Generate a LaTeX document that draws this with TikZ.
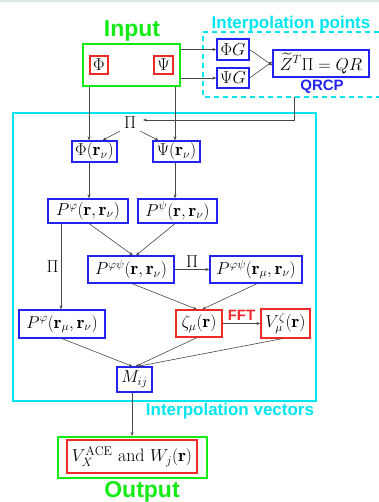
\documentclass[tikz,border=0pt]{standalone}
\usepackage{fontspec}
\usepackage{amsmath}
\newfontfamily\labelfont{Liberation Sans}
\usetikzlibrary{arrows.meta,calc}
\definecolor{cgreen}{RGB}{20,235,20}
\definecolor{cblue}{RGB}{35,35,240}
\definecolor{cred}{RGB}{240,40,40}
\definecolor{ccyan}{RGB}{0,230,240}
\definecolor{cline}{RGB}{70,70,70}
\definecolor{ctop}{RGB}{215,232,222}
\tikzset{
  mathbox/.style={draw=cblue, line width=1.2pt, inner sep=0pt, align=center,
    font=\fontsize{18}{20}\selectfont},
  redbox/.style={mathbox, draw=cred},
  greenbox/.style={draw=cgreen, line width=2pt, inner sep=0pt},
  arr/.style={draw=cline, line width=0.6pt, -{Stealth[length=4pt,width=3pt]}},
  plainline/.style={draw=cline, line width=0.6pt},
  lbl/.style={font=\labelfont\bfseries, inner sep=0pt},
  pilabel/.style={font=\fontsize{18}{20}\selectfont, inner sep=1pt}
}
\begin{document}
\begin{tikzpicture}[x=1pt,y=-1pt]
\useasboundingbox (0,0) rectangle (379,502);
\fill[ctop] (0,0) rectangle (379,2);

% column coordinates
\coordinate (c1) at (89,0);
\coordinate (c2) at (175,0);
\coordinate (c0) at (61,0);
\coordinate (c3) at (132,0);

% Input
\node[lbl, text=cgreen, font=\labelfont\bfseries\fontsize{23}{26}\selectfont] (inlabel) at (132,31) {Input};
\node[greenbox, minimum width=97pt, minimum height=42pt] (inbox) at (131.5,65) {};
\node[redbox, minimum width=18pt, minimum height=18pt] (phiin) at (99,65) {$\Phi$};
\node[redbox, minimum width=19pt, minimum height=18pt] (psiin) at (163.5,65) {$\Psi$};

% Interpolation points
\draw[ccyan, line width=1.5pt, dash pattern=on 5pt off 4pt] (379,32) -- (203,32) -- (203,97) -- (379,97);
\node[lbl, text=ccyan, font=\labelfont\bfseries\fontsize{17}{20}\selectfont] (iplabel) at (291,24) {Interpolation points};
\node[mathbox, minimum width=32pt, minimum height=21pt] (phiG) at (233,49.5) {$\Phi G$};
\node[mathbox, minimum width=32pt, minimum height=20pt] (psiG) at (233,78) {$\Psi G$};
\node[mathbox, minimum width=96pt, minimum height=27pt] (zbox) at (321,63.5) {$\widetilde{Z}^T\Pi = QR$};
\node[lbl, text=cblue, font=\labelfont\bfseries\fontsize{15}{18}\selectfont] (qrcp) at (322,87) {QRCP};

\draw[arr] (inbox.east |- phiG.west) -- (phiG.west);
\draw[arr] (inbox.east |- psiG.west) -- (psiG.west);
\draw[arr] (phiG.east) -- ([yshift=-2pt]zbox.west);
\draw[arr] (psiG.east) -- ([yshift=2pt]zbox.west);

% Interpolation vectors box
\draw[ccyan, line width=1.3pt] (13,113) rectangle (316,401);
\node[lbl, text=ccyan, font=\labelfont\bfseries\fontsize{17}{20}\selectfont] (ivlabel) at (230,411) {Interpolation vectors};

\node[pilabel] (pi) at (130,123) {$\Pi$};
\coordinate (qstart) at (294,97);
\coordinate (pitarget) at (143,120);
\draw[arr] (qstart) |- (pitarget);

\node[mathbox, minimum width=45pt, minimum height=21pt] (phir) at (94.5,151.5) {$\Phi(\mathbf{r}_\nu)$};
\node[mathbox, minimum width=47pt, minimum height=21pt] (psir) at (176.5,151.5) {$\Psi(\mathbf{r}_\nu)$};

\draw[arr] (inbox.south -| c1) -- (phir.north -| c1);
\draw[arr] (inbox.south -| c2) -- (psir.north -| c2);
\draw[arr] ([xshift=-3pt,yshift=-1pt]pi.south west) -- ([xshift=8pt]phir.north);
\draw[arr] ([xshift=3pt,yshift=-1pt]pi.south east) -- ([xshift=-18pt]psir.north);

\node[mathbox, minimum width=80pt, minimum height=24pt] (Pphi) at (88,211) {$P^{\varphi}(\mathbf{r},\mathbf{r}_\nu)$};
\node[mathbox, minimum width=79pt, minimum height=24pt] (Ppsi) at (177.5,211) {$P^{\psi}(\mathbf{r},\mathbf{r}_\nu)$};

\draw[arr] (phir.south -| c1) -- (Pphi.north -| c1);
\draw[arr] (psir.south -| c2) -- (Ppsi.north -| c2);

\node[mathbox, minimum width=86pt, minimum height=27pt] (Pphipsi) at (131,269.5) {$P^{\varphi\psi}(\mathbf{r},\mathbf{r}_\nu)$};
\node[mathbox, minimum width=92pt, minimum height=27pt] (Pphipsimu) at (256,269.5) {$P^{\varphi\psi}(\mathbf{r}_\mu,\mathbf{r}_\nu)$};

\draw[arr] (Pphi.south -| c1) -- ([xshift=2pt]Pphipsi.north);
\draw[arr] (Ppsi.south -| c2) -- ([xshift=5pt]Pphipsi.north);
\draw[arr] (Pphipsi.east) -- node[pilabel, above=1pt] (pi2) {$\Pi$} (Pphipsimu.west);

\node[mathbox, minimum width=86pt, minimum height=28pt] (Pphimu) at (62,324) {$P^{\varphi}(\mathbf{r}_\mu,\mathbf{r}_\nu)$};
\node[redbox, minimum width=46pt, minimum height=27pt] (zeta) at (199,323.5) {$\zeta_\mu(\mathbf{r})$};
\node[redbox, minimum width=49pt, minimum height=29pt] (Vzeta) at (285.5,323.5) {$V_\mu^{\zeta}(\mathbf{r})$};

\draw[arr] (Pphi.south -| c0) -- node[pilabel, left=1pt] (pi3) {$\Pi$} (Pphimu.north -| c0);
\draw[arr] ([xshift=1pt]Pphipsi.south) -- ([xshift=-2pt]zeta.north);
\draw[arr] ([xshift=1pt]Pphipsimu.south) -- ([xshift=3pt]zeta.north);
\draw[arr] (zeta.east) -- node[lbl, text=cred, font=\labelfont\bfseries\fontsize{15}{18}\selectfont, above=3pt] (fft) {FFT} (Vzeta.west);

\node[mathbox, minimum width=35pt, minimum height=25pt] (Mij) at (134.5,379.5) {$M_{ij}$};
\draw[arr] (Pphimu.south) -- ([xshift=-2pt]Mij.north);
\draw[arr] ([xshift=-2pt]zeta.south) -- ([xshift=1pt]Mij.north);
\draw[arr] ([xshift=-3pt]Vzeta.south) -- ([xshift=3pt]Mij.north);

% Output
\node[greenbox, minimum width=149pt, minimum height=41pt] (outbox) at (132.5,457.5) {};
\node[redbox, minimum width=130pt, minimum height=33pt] (outinner) at (132,456.5) {$V_X^{\mathrm{ACE}}$ and $W_j(\mathbf{r})$};
\node[lbl, text=cgreen, font=\labelfont\bfseries\fontsize{23}{26}\selectfont] (outlabel) at (142,492) {Output};
\draw[arr] (Mij.south -| c3) -- (outbox.north -| c3);
\end{tikzpicture}
\end{document}
